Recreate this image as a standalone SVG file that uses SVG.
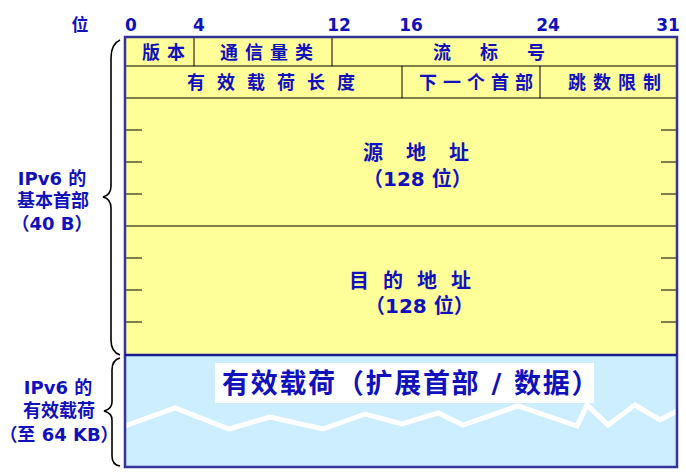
<svg xmlns="http://www.w3.org/2000/svg" width="686" height="474" viewBox="0 0 686 474">
<style>
.t{font-family:"DejaVu Sans","Noto Sans CJK SC",sans-serif;font-weight:bold;fill:#1111bb;text-anchor:middle}
.s{text-anchor:start}
.h{font-size:18px}
.b{font-size:17px}
.l{font-size:18px}
.ln{stroke:#000;stroke-width:1;fill:none}
.br{stroke:#000;stroke-width:1.6;fill:none}
</style>
<rect width="686" height="474" fill="#fff"/>
<g id="bits">
<text class="t b" x="80" y="31">位</text>
<text class="t b" x="131" y="31">0</text>
<text class="t b" x="199" y="31">4</text>
<text class="t b" x="339" y="31">12</text>
<text class="t b" x="411" y="31">16</text>
<text class="t b" x="548" y="31">24</text>
<text class="t b" x="668" y="31">31</text>
</g>
<g id="header">
<rect x="125" y="37" width="552" height="318" fill="#ffff99"/>
<line class="ln" x1="125" y1="66" x2="677" y2="66"/>
<line class="ln" x1="125" y1="98" x2="677" y2="98"/>
<line class="ln" x1="125" y1="226" x2="677" y2="226"/>
<line class="ln" x1="194" y1="37" x2="194" y2="66"/>
<line class="ln" x1="332" y1="37" x2="332" y2="66"/>
<line class="ln" x1="402" y1="66" x2="402" y2="98"/>
<line class="ln" x1="540" y1="66" x2="540" y2="98"/>
<path class="ln" d="M125 130h17M125 162h17M125 194h17M125 258h17M125 290h17M125 322h17M661 130h16M661 162h16M661 194h16M661 258h16M661 290h16M661 322h16"/>
</g>
<g id="payload">
<rect x="125" y="355" width="552" height="112" fill="#cceeff"/>
<polyline points="125,426 175,408 229,429 270,417 323,429 365,414 402,424 438,413 463,425 518,406 577,426 587,405 608,425 635,405 660,420 677,411" fill="none" stroke="#fff" stroke-width="5"/>
<rect x="215" y="363" width="379" height="40" fill="#fff"/>
<text class="t s" x="222" y="393" style="font-size:27px" letter-spacing="1.7">有效载荷（扩展首部 / 数据）</text>
</g>
<rect x="125" y="37" width="552" height="430" fill="none" stroke="#333399" stroke-width="2.5"/>
<line x1="125" y1="355" x2="677" y2="355" stroke="#1a1a99" stroke-width="2.5"/>
<g id="fields">
<text class="t h s" x="142" y="59" letter-spacing="7">版本</text>
<text class="t h s" x="220" y="59" letter-spacing="7">通信量类</text>
<text class="t h s" x="433" y="59" letter-spacing="29">流标号</text>
<text class="t h s" x="187" y="89" letter-spacing="12">有效载荷长度</text>
<text class="t h s" x="419" y="89" letter-spacing="6">下一个首部</text>
<text class="t h s" x="568" y="89" letter-spacing="7">跳数限制</text>
<text class="t s" x="363" y="160" style="font-size:20px" letter-spacing="23">源地址</text>
<text class="t s" x="363" y="186" style="font-size:20px">（128 位）</text>
<text class="t s" x="349" y="288" style="font-size:20px" letter-spacing="14">目的地址</text>
<text class="t s" x="365" y="313" style="font-size:20px">（128 位）</text>
</g>
<g id="braces">
<path class="br" d="M120 40 Q111 44 111 58 L111 186 Q111 195 103 197 Q111 199 111 208 L111 340 Q111 352 120 355"/>
<path class="br" d="M120 358 Q112 360 112 370 L112 402 Q112 409 104 411 Q112 413 112 420 L112 456 Q112 465 120 466"/>
</g>
<g id="labels">
<text class="t l" x="52" y="185">IPv6 的</text>
<text class="t l" x="53" y="207">基本首部</text>
<text class="t l" x="52" y="230">（40 B）</text>
<text class="t l" x="58" y="394">IPv6 的</text>
<text class="t l" x="59" y="417">有效载荷</text>
<text class="t l" x="59" y="441">（至 64 KB）</text>
</g>
</svg>
